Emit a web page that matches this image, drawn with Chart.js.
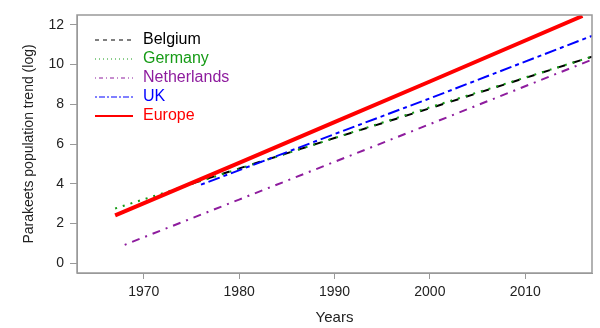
<!DOCTYPE html>
<html>
<head>
<meta charset="utf-8">
<script src="https://cdn.jsdelivr.net/npm/chart.js@4/dist/chart.umd.min.js"></script>
<style>
  body { margin: 0; background: #fff; }
  #wrap { width: 600px; height: 328px; }
</style>
</head>
<body>
<div id="wrap"><canvas id="trendChart" width="600" height="328"></canvas></div>
<script>
// values (log population trend)
const belgiumYears = [1975, 1990, 2000, 2017];
const belgiumVals = [4.0, 6.3, 7.8, 10.4];
const germanyYears = [1967, 1980, 1990, 2000, 2017];
const germanyVals = [2.75, 4.75, 6.3, 7.85, 10.4];
const netherlandsYears = [1968, 1980, 1990, 2000, 2017];
const netherlandsVals = [0.92, 3.2, 5.1, 7.0, 10.25];
const ukYears = [1976, 1990, 2000, 2017];
const ukVals = [3.95, 6.5, 8.3, 11.45];
const europeYears = [1967, 1980, 1990, 2000, 2016];
const europeVals = [2.4, 5.05, 7.1, 9.15, 12.45];

const xTicks = [1970, 1980, 1990, 2000, 2010];
const yTicks = [0, 2, 4, 6, 8, 10, 12];

const FONT = "'Liberation Sans', Arial, sans-serif";
const GREY = "#999999";

function pts(xs, ys) {
  return xs.map((x, i) => ({ x: x, y: ys[i] }));
}

// legend drawn inside the plot, R style (no box)
const innerLegend = {
  id: "innerLegend",
  afterDraw(chart) {
    const ctx = chart.ctx;
    const area = chart.chartArea;
    ctx.save();
    ctx.font = "16px " + FONT;
    ctx.textBaseline = "middle";
    chart.data.datasets.forEach((ds, i) => {
      const y = area.top + 25 + i * 19;
      const x0 = area.left + 18;
      ctx.strokeStyle = ds.borderColor;
      ctx.lineWidth = ds.legendWidth;
      ctx.setLineDash(ds.legendDash);
      ctx.beginPath();
      ctx.moveTo(x0, y);
      ctx.lineTo(x0 + 38, y);
      ctx.stroke();
      ctx.setLineDash([]);
      ctx.fillStyle = ds.borderColor;
      ctx.fillText(ds.label, x0 + 48, y);
    });
    ctx.restore();
  },
};

// box round the plot region
const plotFrame = {
  id: "plotFrame",
  afterDraw(chart) {
    const a = chart.chartArea;
    const ctx = chart.ctx;
    ctx.save();
    ctx.strokeStyle = GREY;
    ctx.lineWidth = 1.5;
    ctx.strokeRect(a.left, a.top, a.right - a.left, a.bottom - a.top);
    ctx.restore();
  },
};

const ctx = document.getElementById("trendChart").getContext("2d");

new Chart(ctx, {
  type: "line",
  data: {
    datasets: [
      {
        label: "Belgium",
        data: pts(belgiumYears, belgiumVals),
        borderColor: "#000000",
        borderWidth: 2,
        borderDash: [8, 8],
        legendDash: [4, 4],
        legendWidth: 1,
        order: 4,
      },
      {
        label: "Germany",
        data: pts(germanyYears, germanyVals),
        borderColor: "#169b16",
        borderWidth: 2,
        borderDash: [2, 6],
        legendDash: [1, 3],
        legendWidth: 1,
        order: 3,
      },
      {
        label: "Netherlands",
        data: pts(netherlandsYears, netherlandsVals),
        borderColor: "#8e1c9e",
        borderWidth: 2,
        borderDash: [2, 6, 8, 6],
        legendDash: [1, 3, 4, 3],
        legendWidth: 1,
        order: 2,
      },
      {
        label: "UK",
        data: pts(ukYears, ukVals),
        borderColor: "#0000ff",
        borderWidth: 2,
        borderDash: [4, 4, 12, 4],
        legendDash: [2, 2, 6, 2],
        legendWidth: 1,
        order: 1,
      },
      {
        label: "Europe",
        data: pts(europeYears, europeVals),
        borderColor: "#ff0000",
        borderWidth: 4,
        borderDash: [],
        legendDash: [],
        legendWidth: 2,
        order: 0,
      },
    ],
  },
  options: {
    responsive: false,
    animation: false,
    layout: { padding: { top: 15, right: 8, left: 0, bottom: 0 } },
    elements: {
      point: { radius: 0 },
      line: { tension: 0, fill: false, borderCapStyle: "butt" },
    },
    scales: {
      x: {
        type: "linear",
        min: 1963,
        max: 2017,
        afterBuildTicks: (s) => {
          s.ticks = xTicks.map((v) => ({ value: v }));
        },
        afterFit: (s) => {
          s.height = 55;
        },
        ticks: {
          font: { size: 14, family: FONT },
          color: "#222",
          padding: 5,
          maxRotation: 0,
          callback: (v) => String(v),
        },
        grid: { drawOnChartArea: false, tickLength: 6, color: GREY },
        border: { color: GREY, width: 1 },
        title: {
          display: true,
          text: "Years",
          font: { size: 15, family: FONT },
          color: "#222",
          padding: { top: 0, bottom: 1 },
        },
      },
      y: {
        min: -0.5,
        max: 12.5,
        afterBuildTicks: (s) => {
          s.ticks = yTicks.map((v) => ({ value: v }));
        },
        afterFit: (s) => {
          s.width = 77;
        },
        ticks: {
          font: { size: 14, family: FONT },
          color: "#222",
          padding: 6,
          callback: (v) => String(v),
        },
        grid: { drawOnChartArea: false, tickLength: 7, color: GREY },
        border: { color: GREY, width: 1 },
        title: {
          display: true,
          text: "Parakeets population trend (log)",
          font: { size: 14, family: FONT },
          color: "#222",
          padding: { top: 21, bottom: 0 },
        },
      },
    },
    plugins: {
      legend: { display: false },
      tooltip: { enabled: false },
    },
  },
  plugins: [innerLegend, plotFrame],
});
</script>
</body>
</html>
